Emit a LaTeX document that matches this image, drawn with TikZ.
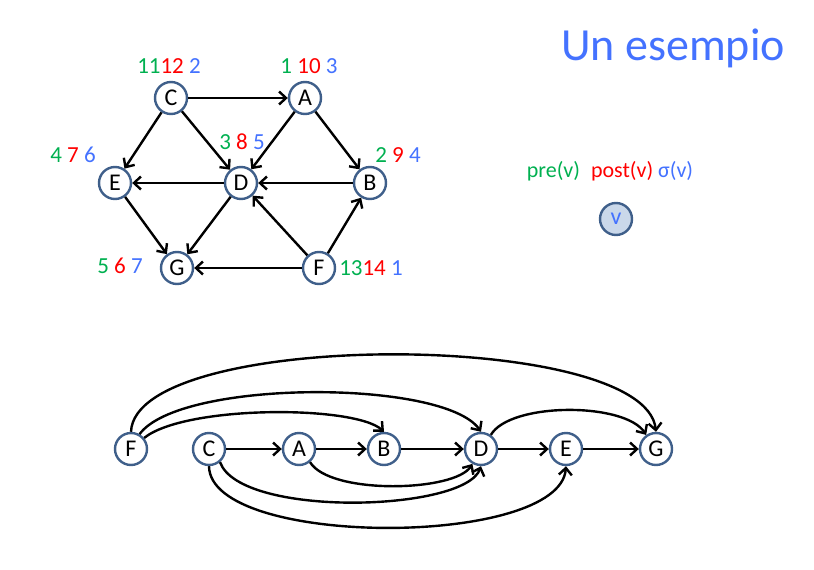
\documentclass[tikz,border=0pt]{standalone}
\usepackage{fontspec}
\setmainfont{Carlito}
\usepackage{xcolor}
\usetikzlibrary{arrows.meta,positioning}

\definecolor{vborder}{HTML}{3F5F8A}
\definecolor{vfill}{HTML}{CAD8EA}
\definecolor{pregreen}{HTML}{00B050}
\definecolor{postred}{HTML}{FF0000}
\definecolor{sigblue}{HTML}{4472FF}

\newcommand{\vpre}[1]{\textcolor{pregreen}{#1}}
\newcommand{\vpost}[1]{\textcolor{postred}{#1}}
\newcommand{\vsig}[1]{\textcolor{sigblue}{#1}}

\begin{document}
\begin{tikzpicture}[
    x=1pt, y=-1pt,
    vertex/.style={circle, draw=vborder, line width=2.4pt, fill=white, minimum size=32pt, inner sep=0pt, font=\fontsize{24}{24}\selectfont},
    lbl/.style={font=\fontsize{23}{23}\selectfont, inner sep=0pt},
    line/.style={-{Straight Barb[length=7pt,width=13pt]}, line width=2.4pt}
]
\useasboundingbox (0,0) rectangle (814,570);

% graph with visit numbers
\node[vertex] (c) at (171,98) {C};
\node[vertex] (a) at (305,98) {A};
\node[vertex] (e) at (115,183) {E};
\node[vertex] (d) at (241,183) {D};
\node[vertex] (b) at (370,183) {B};
\node[vertex] (g) at (177,268) {G};
\node[vertex] (f) at (319,268) {F};

\node[lbl] (lc) at (169,66) {\vpre{11}\vpost{12} \vsig{2}};
\node[lbl] (la) at (309,66) {\vpre{1} \vpost{10} \vsig{3}};
\node[lbl] (le) at (73,155) {\vpre{4} \vpost{7} \vsig{6}};
\node[lbl] (ld) at (242,142) {\vpre{3} \vpost{8} \vsig{5}};
\node[lbl] (lb) at (398,155) {\vpre{2} \vpost{9} \vsig{4}};
\node[lbl] (lg) at (120,266) {\vpre{5} \vpost{6} \vsig{7}};
\node[lbl] (lf) at (371,268) {\vpre{13}\vpost{14} \vsig{1}};

\draw[line] (c) -- (a);
\draw[line] (c) -- (e);
\draw[line] (c) -- (d);
\draw[line] (a) -- (d);
\draw[line] (a) -- (b);
\draw[line] (d) -- (e);
\draw[line] (b) -- (d);
\draw[line] (e) -- (g);
\draw[line] (d) -- (g);
\draw[line] (f) -- (g);
\draw[line] (f) -- (d);
\draw[line] (f) -- (b);

% title and legend
\node[font=\fontsize{46}{46}\selectfont, text=sigblue] (title) at (673,48) {Un esempio};
\node[lbl, font=\fontsize{22}{22}\selectfont] (legend) at (610,171) {\vpre{pre(v)}\enspace\vpost{post(v)} \vsig{σ(v)}};
\node[vertex, fill=vfill, text=sigblue] (v) at (616,219) {v};

% topological order
\node[vertex] (f2) at (131,449) {F};
\node[vertex] (c2) at (209,449) {C};
\node[vertex] (a2) at (299,449) {A};
\node[vertex] (b2) at (384,449) {B};
\node[vertex] (d2) at (481,449) {D};
\node[vertex] (e2) at (566,449) {E};
\node[vertex] (g2) at (656,449) {G};

\draw[line] (c2) -- (a2);
\draw[line] (a2) -- (b2);
\draw[line] (b2) -- (d2);
\draw[line] (d2) -- (e2);
\draw[line] (e2) -- (g2);
\draw[line] (f2.north) .. controls (135,329) and (645,329) .. (g2.north);
\draw[line] (f2.60) .. controls (180,379) and (445,379) .. (d2.north);
\draw[line] (f2.40) .. controls (185,405) and (355,405) .. (b2.north);
\draw[line] (d2.55) .. controls (510,402) and (625,402) .. (g2.125);
\draw[line] (a2.-50) .. controls (330,495) and (455,492) .. (d2.-120);
\draw[line] (c2.-50) .. controls (240,518) and (465,512) .. (d2.-90);
\draw[line] (c2.south) .. controls (210,548) and (560,548) .. (e2.south);
\end{tikzpicture}
\end{document}
